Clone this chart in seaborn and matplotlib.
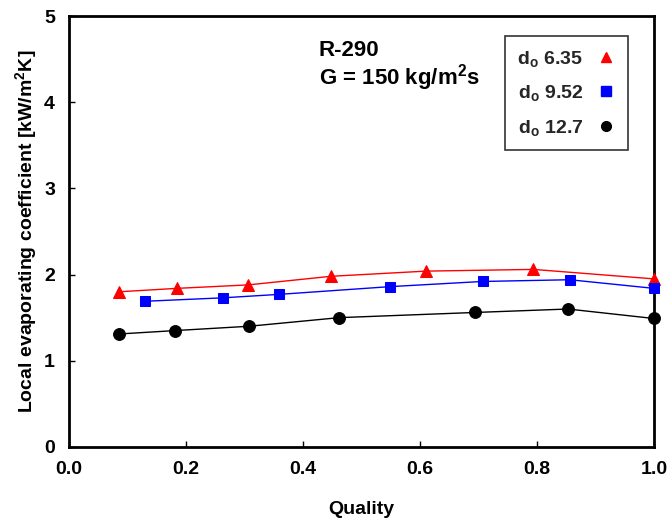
import matplotlib
matplotlib.use("Agg")
import matplotlib.pyplot as plt
from matplotlib.lines import Line2D
import seaborn as sns
import pandas as pd

# Local evaporating heat-transfer coefficient vs. vapour quality, R-290, G = 150 kg/m2s
q_635 = [0.085, 0.185, 0.306, 0.448, 0.610, 0.794, 1.0]
h_635 = [1.80, 1.84, 1.88, 1.98, 2.04, 2.06, 1.95]

q_952 = [0.130, 0.263, 0.359, 0.549, 0.707, 0.856, 1.0]
h_952 = [1.69, 1.73, 1.77, 1.86, 1.92, 1.94, 1.84]

q_127 = [0.085, 0.182, 0.308, 0.462, 0.694, 0.853, 1.0]
h_127 = [1.31, 1.35, 1.40, 1.50, 1.56, 1.60, 1.49]

labels = ["d$_o$ 6.35", "d$_o$ 9.52", "d$_o$ 12.7"]
colors = ["#ff0000", "#0000ff", "#000000"]
markers = ["^", "s", "o"]

x_ticks = [0.0, 0.2, 0.4, 0.6, 0.8, 1.0]
y_ticks = [0, 1, 2, 3, 4, 5]

sns.set_theme(style="white")
plt.rcParams["font.family"] = ["Liberation Sans", "DejaVu Sans"]
plt.rcParams["font.weight"] = "bold"
plt.rcParams["mathtext.fontset"] = "custom"
plt.rcParams["mathtext.rm"] = "Liberation Sans:bold"
plt.rcParams["mathtext.it"] = "Liberation Sans:bold"
plt.rcParams["mathtext.bf"] = "Liberation Sans:bold"
plt.rcParams["mathtext.default"] = "rm"

fig = plt.figure(figsize=(6.70, 5.22), dpi=100)
ax = fig.add_axes([0.103, 0.144, 0.873, 0.825])

series = [(q_635, h_635), (q_952, h_952), (q_127, h_127)]
handles = []
for (q, h), lab, c, m in zip(series, labels, colors, markers):
    df = pd.DataFrame({"Quality": q, "h": h})
    sns.lineplot(data=df, x="Quality", y="h", ax=ax, color=c, linewidth=1.0,
                 marker=m, markersize=8.5 if m != "s" else 7.5,
                 markeredgecolor=c, markerfacecolor=c, sort=False,
                 estimator=None, legend=False, clip_on=False, zorder=3)
    handles.append(Line2D([], [], linestyle="none", marker=m, color=c,
                          markersize=7 if m != "s" else 6.5,
                          markeredgecolor=c, markerfacecolor=c))

ax.set_xlim(0, 1.0)
ax.set_ylim(0, 5)
ax.set_xticks(x_ticks)
ax.set_xticklabels([f"{v:.1f}" for v in x_ticks])
ax.set_yticks(y_ticks)
ax.set_yticklabels([str(v) for v in y_ticks])

for side in ["left", "bottom", "right", "top"]:
    ax.spines[side].set_visible(True)
    ax.spines[side].set_color("black")
    ax.spines[side].set_linewidth(2.0)

ax.tick_params(axis="both", which="major", direction="in", length=4, width=1,
               color="black", labelsize=14, labelcolor="black",
               left=True, bottom=True, right=False, top=False)
ax.tick_params(axis="x", pad=10)
ax.tick_params(axis="y", pad=10)
for t in ax.get_xticklabels() + ax.get_yticklabels():
    t.set_fontweight("bold")

ax.set_xlabel("Quality", fontsize=14, fontweight="bold", color="black", labelpad=17)
ax.set_ylabel("Local evaporating coefficient [kW/m$^2$K]", fontsize=14,
              fontweight="bold", color="black", labelpad=4)

ax.text(0.427, 0.945, "R-290\nG = 150 kg/m$^2$s", transform=ax.transAxes,
        ha="left", va="top", fontsize=16, fontweight="bold", color="black",
        linespacing=1.05)

leg = ax.legend(handles, labels, loc="upper left", bbox_to_anchor=(0.745, 0.954),
                borderaxespad=0, markerfirst=False, frameon=True, fancybox=False,
                edgecolor="black", handlelength=1.0, handletextpad=0.65,
                labelspacing=0.75, borderpad=0.65,
                prop={"weight": "bold", "size": 14})
leg.get_frame().set_linewidth(1.2)

fig.savefig("out.png", dpi=100)
